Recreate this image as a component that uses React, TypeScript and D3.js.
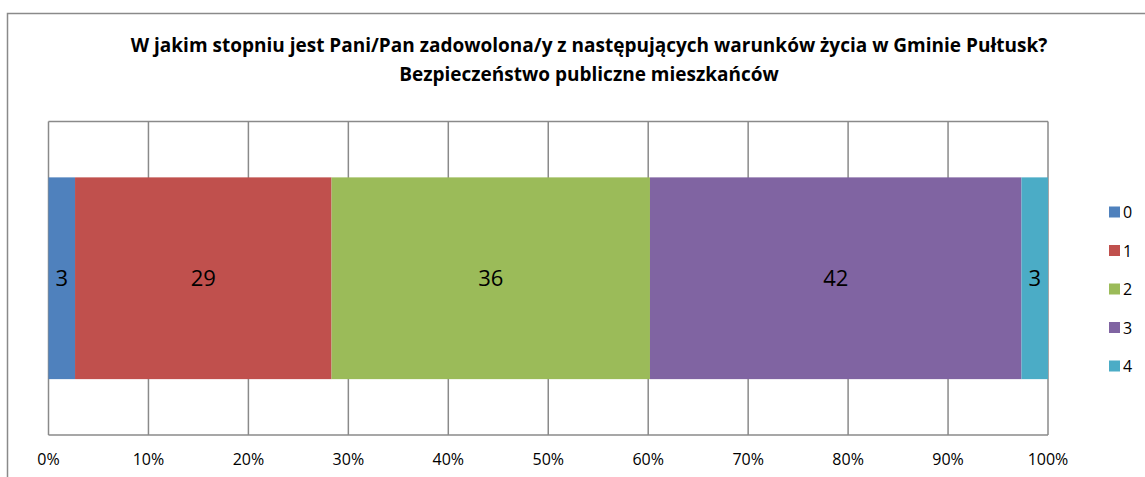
import React from "react";
import * as d3 from "d3";

const seriesNames = ["0", "1", "2", "3", "4"];
const seriesValues = [3, 29, 36, 42, 3];
const colors = ["#4F81BD", "#C0504D", "#9BBB59", "#8064A2", "#4BACC6"];
const tickValues = [0, 0.1, 0.2, 0.3, 0.4, 0.5, 0.6, 0.7, 0.8, 0.9, 1];
const titleLines = [
  "W jakim stopniu jest Pani/Pan zadowolona/y z następujących warunków życia w Gminie Pułtusk?",
  "Bezpieczeństwo publiczne mieszkańców",
];

const W = 1145;
const H = 477;
const plot = { left: 48.5, right: 1048, top: 121.5, bottom: 435 };
const font = "'Open Sans', sans-serif";

export default function App() {
  const total = d3.sum(seriesValues);
  const x = d3.scaleLinear().domain([0, 1]).range([plot.left, plot.right]);
  const y = d3.scaleBand().domain(["cat"]).range([plot.top, plot.bottom]).paddingInner(0.35).paddingOuter(0.18);
  const stackData = [Object.fromEntries(seriesNames.map((n, i) => [n, seriesValues[i] / total]))];
  const stacked = d3.stack<any>().keys(seriesNames)(stackData as any);
  const barY = y("cat")!;
  const bh = y.bandwidth();
  const legendY = d3.scalePoint().domain(seriesNames).range([212, 366]);

  return (
    <svg width={W} height={H} style={{ position: "absolute", left: 0, top: 0 }} fontFamily={font}>
      <rect x={0} y={0} width={W} height={H} fill="#fff" />
      <rect x={7.5} y={13.5} width={W + 10} height={H + 10} fill="none" stroke="#8a8a8a" strokeWidth={1.5} />
      {titleLines.map((t, i) => (
        <text key={i} x={589} y={52 + i * 29} textAnchor="middle" fontWeight="bold" fontSize={19} fill="#000">
          {t}
        </text>
      ))}
      {tickValues.map((t) => (
        <line key={t} x1={x(t)} x2={x(t)} y1={plot.top} y2={plot.bottom} stroke="#8a8a8a" strokeWidth={1.5} />
      ))}
      <line x1={plot.left} x2={plot.right} y1={plot.top} y2={plot.top} stroke="#8a8a8a" strokeWidth={1.5} />
      <line x1={plot.left} x2={plot.right} y1={plot.bottom} y2={plot.bottom} stroke="#8a8a8a" strokeWidth={1.5} />
      {stacked.map((s, i) => {
        const d = s[0];
        const x0 = x(d[0]);
        const x1 = x(d[1]);
        return (
          <g key={s.key}>
            <rect x={x0} y={barY} width={x1 - x0} height={bh} fill={colors[i]} />
            <text x={(x0 + x1) / 2} y={barY + bh / 2 + 8} textAnchor="middle" fontSize={22} fill="#000">
              {seriesValues[i]}
            </text>
          </g>
        );
      })}
      {tickValues.map((t) => (
        <text key={t} x={x(t)} y={465} textAnchor="middle" fontSize={16} fill="#000">
          {d3.format(".0%")(t)}
        </text>
      ))}
      {seriesNames.map((n, i) => (
        <g key={n}>
          <rect x={1109} y={legendY(n)! - 5.5} width={11} height={11} fill={colors[i]} />
          <text x={1123} y={legendY(n)! + 6} fontSize={16} fill="#000">
            {n}
          </text>
        </g>
      ))}
    </svg>
  );
}
